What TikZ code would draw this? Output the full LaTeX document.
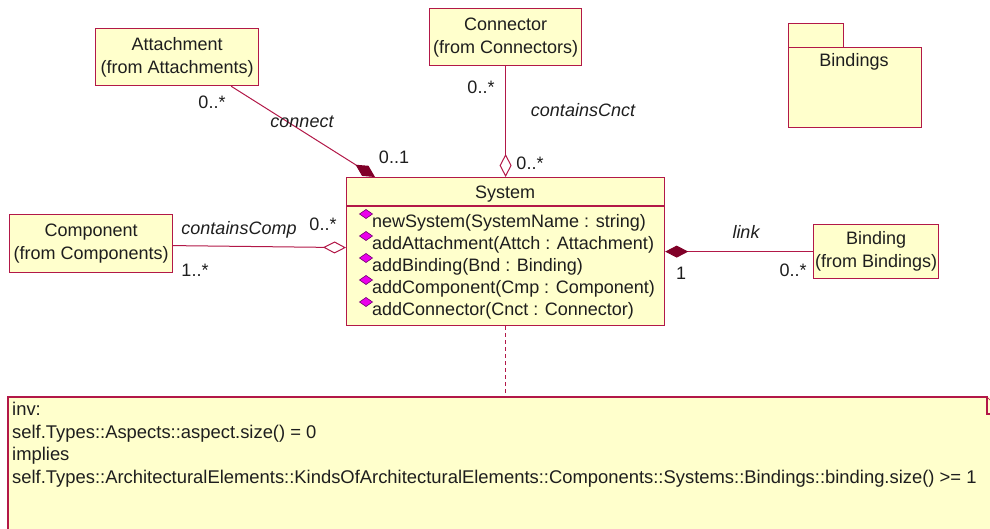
\documentclass[tikz,border=0pt]{standalone}
\usepackage{fontspec}
\setmainfont{Liberation Sans}
\usetikzlibrary{arrows.meta}
\definecolor{umlred}{RGB}{178,24,72}
\definecolor{umldark}{RGB}{128,0,40}
\definecolor{umlfill}{RGB}{255,255,204}
\definecolor{iconfill}{RGB}{235,0,235}
\definecolor{iconedge}{RGB}{110,0,110}
\definecolor{txt}{RGB}{30,30,30}
\begin{document}
\begin{tikzpicture}[x=1pt,y=-1pt,
  font=\fontsize{18}{23}\selectfont,
  box/.style={draw=umlred, fill=umlfill, line width=1.2pt, inner sep=0pt, anchor=north west, align=center, text=txt},
  assoc/.style={draw=umlred, line width=1pt},
  lbl/.style={inner sep=0pt, text=txt},
  ilbl/.style={lbl, font=\fontsize{18}{23}\selectfont\itshape},
  compo/.style={assoc, -{Diamond[length=23pt,width=12pt,color=umldark,fill=umldark]}},
  aggr/.style={assoc, -{Diamond[length=23pt,width=12pt,fill=white]}},
  icon/.style={draw=iconedge, fill=iconfill, line width=0.6pt},
]
\useasboundingbox (0,0) rectangle (990,529);
\clip (0,0) rectangle (990,529);

% classes
\node[box, minimum width=163pt, minimum height=57pt] (att) at (95,28) {Attachment\\(from Attachments)};
\node[box, minimum width=152pt, minimum height=57pt] (con) at (429,8) {Connector\\(from Connectors)};
\node[box, minimum width=163pt, minimum height=58pt] (comp) at (9,214) {Component\\(from Components)};
\node[box, minimum width=125pt, minimum height=54pt] (bnd) at (813,224) {Binding\\(from Bindings)};
\node[box, minimum width=318pt, minimum height=148pt] (sys) at (346,177) {};
\draw[umlred, line width=1.2pt] (sys.west |- 0,206) -- (sys.east |- 0,206);
\node[lbl] (systitle) at (505,194) {System};

\foreach \i/\t in {0/{newSystem(SystemName : string)},1/{addAttachment(Attch : Attachment)},2/{addBinding(Bnd : Binding)},3/{addComponent(Cmp : Component)},4/{addConnector(Cnct : Connector)}}{
  \node[lbl, anchor=base west] (m\i) at (372,227.5+22*\i) {\t};
  \draw[icon] (359.5,214+22*\i) -- (366,209.5+22*\i) -- (372.5,214+22*\i) -- (366,218.5+22*\i) -- cycle;
}

% package
\node[box, minimum width=55pt, minimum height=24pt] (pkgtab) at (788,23) {};
\node[box, minimum width=133pt, minimum height=80pt] (pkg) at (788,47) {};
\node[lbl] (pkgname) at (854,62) {Bindings};

% note
\node[fill=umlfill, inner sep=0pt, anchor=north west, minimum width=1000pt, minimum height=160pt] (note) at (8,397) {};
\draw[umlred, line width=1.2pt] (note.south west) -- (note.north west) -- (987,397) -- (987,414) -- (995,414);
\draw[umlred, line width=0.6pt] (987,397) -- (1004,414);
\node[lbl, anchor=north west, align=left, font=\fontsize{18.4}{22.7}\selectfont] (notetext) at (12,402) {inv:\\self.Types::Aspects::aspect.size() = 0\\implies\\self.Types::ArchitecturalElements::KindsOfArchitecturalElements::Components::Systems::Bindings::binding.size() >= 1};

% connectors
\draw[compo] ([xshift=54pt]att.south) -- ([xshift=29pt]sys.north west);
\draw[aggr] (con.south) -- (sys.north);
\draw[aggr] ([yshift=-2pt]comp.east) -- ([yshift=4pt]sys.west);
\draw[compo] (bnd.west) -- (sys.east);
\draw[umlred, line width=1.2pt, dash pattern=on 4pt off 3pt] (sys.south) -- (sys.south |- note.north);

% labels
\node[lbl] (l1) at (212,102) {0..*};
\node[ilbl] (l2) at (302,122) {connect};
\node[lbl] (l3) at (394,157) {0..1};
\node[lbl] (l4) at (481,87) {0..*};
\node[ilbl] (l5) at (583,110) {containsCnct};
\node[lbl] (l6) at (530,163) {0..*};
\node[ilbl] (l7) at (239,230) {containsComp};
\node[lbl] (l8) at (323,224) {0..*};
\node[lbl] (l9) at (195,270) {1..*};
\node[ilbl] (l10) at (746,232) {link};
\node[lbl] (l11) at (681,273) {1};
\node[lbl] (l12) at (793,270) {0..*};
\end{tikzpicture}
\end{document}
